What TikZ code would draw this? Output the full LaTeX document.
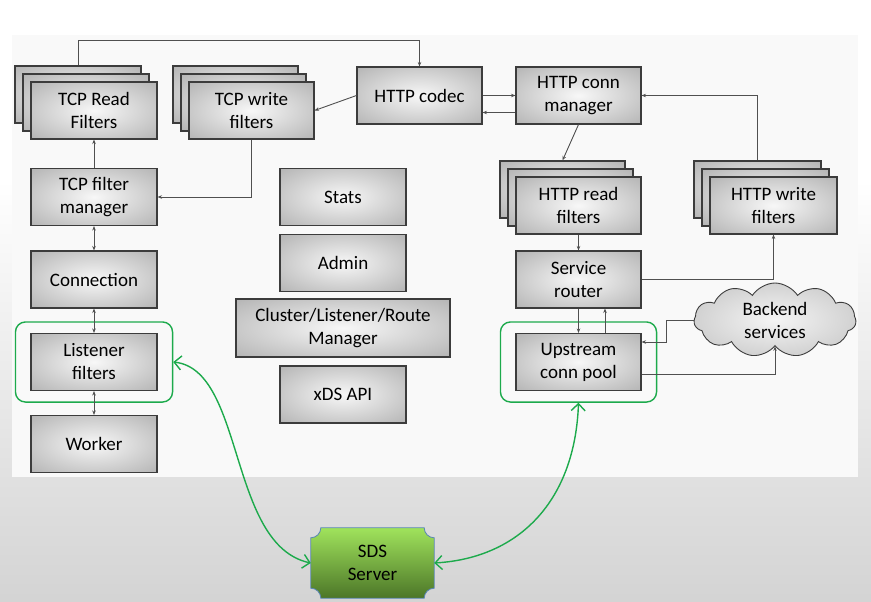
\documentclass[tikz,border=0pt]{standalone}
\usepackage{fontspec}
\setmainfont{Carlito}
\usetikzlibrary{arrows.meta,shapes.symbols,fit,calc,backgrounds}

% soft grey glow used by every component box
\pgfdeclareradialshading{boxglow}{\pgfpoint{0bp}{0bp}}{color(0bp)=(black!3); color(50bp)=(black!40)}
\pgfdeclareradialshading{cloudglow}{\pgfpoint{0bp}{0bp}}{color(0bp)=(black!4); color(50bp)=(black!32)}

\definecolor{linegray}{HTML}{505050}
\definecolor{edgegray}{HTML}{3C3C3C}
\definecolor{panel}{HTML}{F9F9F9}
\definecolor{sdsline}{HTML}{1DAA4C}
\definecolor{sdstop}{HTML}{A0E35C}
\definecolor{sdsbot}{HTML}{4C7628}
\definecolor{sdsedge}{HTML}{5A86B6}

\begin{document}
\begin{tikzpicture}[x=1pt,y=-1pt,
  box/.style={draw=edgegray, line width=1.1pt, shading=boxglow,
    minimum width=126pt, minimum height=57pt, inner sep=0pt, align=center,
    font=\fontsize{19}{23}\selectfont, text=black},
  conn/.style={draw=linegray, line width=0.9pt, -{Stealth[length=4.5pt,width=3.5pt]}},
  both/.style={conn, {Stealth[length=4.5pt,width=3.5pt]}-{Stealth[length=4.5pt,width=3.5pt]}},
  zone/.style={draw=sdsline, line width=1.4pt, rounded corners=10pt,
    inner xsep=15pt, inner ysep=11pt},
  link/.style={draw=sdsline, line width=1.4pt,
    {Straight Barb[length=7pt,width=14pt]}-{Straight Barb[length=7pt,width=14pt]}}]

\useasboundingbox (0,0) rectangle (871,602);

% ---- TCP side ----
\node[box] (trb2) at (78,94.5) {};
\node[box] (trb1) at (86,102.5) {};
\node[box] (tr) at (94,110.5) {TCP Read\\Filters};

\node[box, minimum width=125pt] (twb2) at (235.5,94.5) {};
\node[box, minimum width=125pt] (twb1) at (243.5,102.5) {};
\node[box, minimum width=125pt] (tw) at (251.5,110.5) {TCP write\\filters};

\node[box] (fm) at (94,197) {TCP filter\\manager};
\node[box] (cn) at (94,279.5) {Connection};
\node[box] (lf) at (94,362) {Listener\\filters};
\node[box] (wk) at (94,444) {Worker};

% ---- shared services ----
\node[box] (stats) at (343,197) {Stats};
\node[box] (admin) at (343,263) {Admin};
\node[box, minimum width=214pt, minimum height=58pt] (clrm) at (343,328) {Cluster/Listener/Route\\Manager};
\node[box] (xds) at (343,394.5) {xDS API};

% ---- HTTP side ----
\node[box, minimum width=125pt] (codec) at (419.5,95.5) {HTTP codec};
\node[box, minimum width=125pt] (cm) at (578.5,95.5) {HTTP conn\\manager};

\node[box, minimum width=125pt] (hrb2) at (562.5,189.5) {};
\node[box, minimum width=125pt] (hrb1) at (570.5,197.5) {};
\node[box, minimum width=125pt] (hr) at (578.5,205.5) {HTTP read\\filters};

\node[box, minimum width=127pt] (hwb2) at (757.5,189.5) {};
\node[box, minimum width=127pt] (hwb1) at (765.5,197.5) {};
\node[box, minimum width=127pt] (hw) at (773.5,205.5) {HTTP write\\filters};

\node[box, minimum width=125pt] (sr) at (578.5,279.5) {Service\\router};
\node[box, minimum width=125pt] (up) at (578.5,362) {Upstream\\conn pool};

\node[cloud, cloud puffs=11, cloud puff arc=115, aspect=2.2, draw=edgegray,
  line width=0.9pt, shading=cloudglow, minimum width=162pt, minimum height=74pt,
  inner sep=0pt, align=center, font=\fontsize{19}{23}\selectfont] (be) at (775,320) {Backend\\services};

% ---- SDS zones ----
\node[zone, fit=(lf)] (zl) {};
\node[zone, fit=(up)] (zu) {};
\node[minimum width=123pt, minimum height=70pt, inner sep=0pt, align=center,
  font=\fontsize{19}{23}\selectfont] (sds) at (372.5,563) {SDS\\Server};

% ---- connectors ----
\coordinate (topline) at (0,40);
\draw[conn] (trb2.north) -- (trb2.north |- topline) -| (codec.north);
\draw[conn] (codec.west) -- (tw.east);
\draw[conn] (tw.south) |- (fm.east);
\draw[conn] (fm.north) -- (tr.south);
\draw[both] (fm.south) -- (cn.north);
\draw[both] (cn.south) -- (lf.north);
\draw[both] (lf.south) -- (wk.north);

\draw[conn] (codec.east) -- (cm.west);
\draw[conn] ([yshift=-17pt]cm.west) -- ([yshift=-17pt]codec.east);
\draw[conn] (cm.south) -- (hrb2.north);
\draw[conn] (hwb2.north) |- (cm.east);
\draw[conn] (hr.south) -- (sr.north);
\draw[conn] (sr.east) -| (hw.south);
\draw[conn] (sr.south) -- (up.north);
\draw[conn] ([xshift=26.5pt]up.north) -- ([xshift=26.5pt]sr.south);
\draw[conn] (be.west) -- ++(-27,0) |- ([yshift=20pt]up.east);
\draw[conn] ([yshift=-12pt]up.east) -| (be.south);

\draw[link] (zl.east) .. controls (245,370) and (228,545) .. (sds.west);
\draw[link] (zu.south) .. controls (575,500) and (520,558) .. (sds.east);

% ---- page and SDS plate ----
\begin{scope}[on background layer]
  \fill[white] (0,0) rectangle (871,602);
  \shade[top color=white, bottom color=black!17] (0,180) rectangle (871,602);
  \fill[panel] (12,35) rectangle (858,477);
  \path[draw=sdsedge, line width=0.8pt, top color=sdstop, bottom color=sdsbot]
    ($(sds.north west)+(10,0)$) -- ($(sds.north east)+(-10,0)$)
    arc[start angle=180, end angle=270, radius=10pt]
    -- ($(sds.south east)+(0,-10)$)
    arc[start angle=90, end angle=180, radius=10pt]
    -- ($(sds.south west)+(10,0)$)
    arc[start angle=0, end angle=90, radius=10pt]
    -- ($(sds.north west)+(0,10)$)
    arc[start angle=270, end angle=360, radius=10pt]
    -- cycle;
\end{scope}
\end{tikzpicture}
\end{document}
